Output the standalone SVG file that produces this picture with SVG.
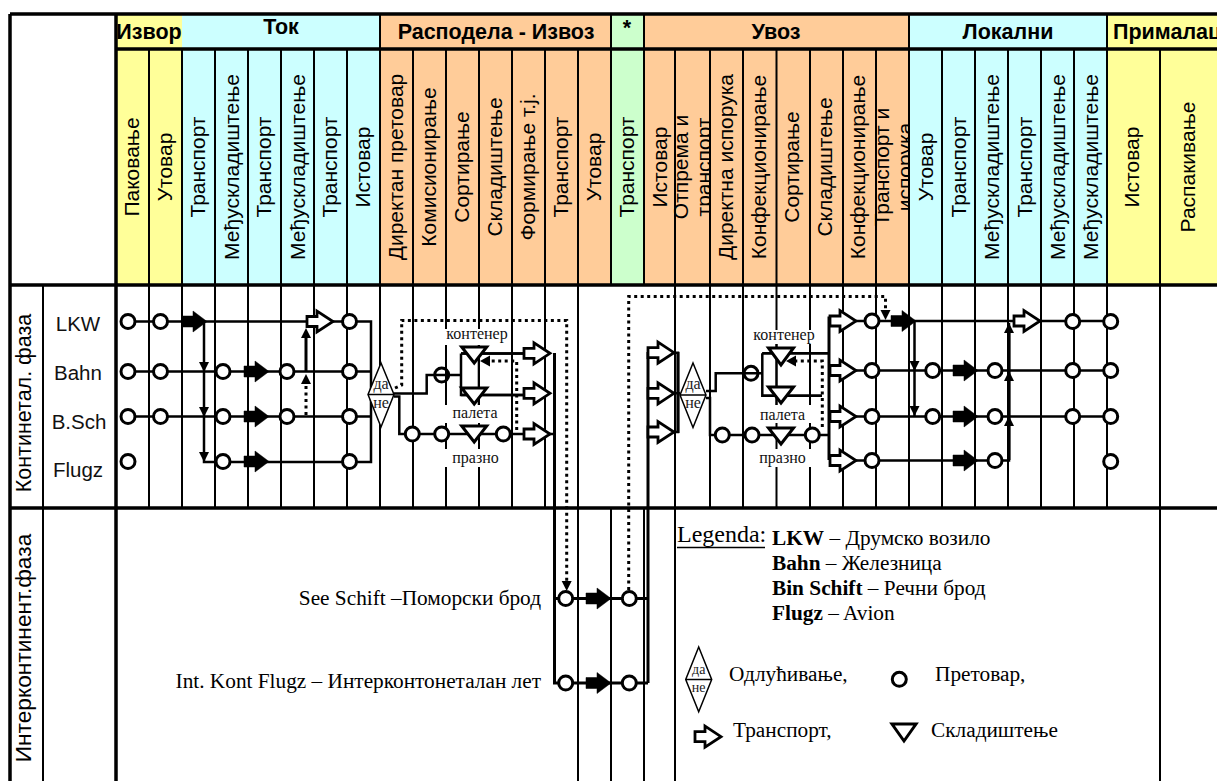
<svg xmlns="http://www.w3.org/2000/svg" width="1217" height="781" viewBox="0 0 1217 781">
<style>
.hd{font-family:"Liberation Sans",Arial,sans-serif;font-size:21px;fill:#000;text-anchor:middle}
.tt{font-family:"Liberation Sans",Arial,sans-serif;font-size:21.5px;font-weight:bold;fill:#000;text-anchor:middle}
.rl{font-family:"Liberation Sans",Arial,sans-serif;font-size:20.5px;fill:#111;text-anchor:middle}
.tm{font-family:"Liberation Serif","Times New Roman",serif;font-size:21.3px;fill:#000}
.sm{font-family:"Liberation Serif","Times New Roman",serif;font-size:16px;fill:#111;text-anchor:middle}
.dn{font-family:"Liberation Serif","Times New Roman",serif;font-size:16px;fill:#222;text-anchor:middle}
.g{stroke:#000;stroke-width:2;fill:none}
.G{stroke:#000;stroke-width:3.5;fill:none}
.l{stroke:#000;stroke-width:2.5;fill:none}
.L{stroke:#000;stroke-width:3;fill:none}
.dt{stroke:#000;stroke-width:3;fill:none;stroke-dasharray:3 3.5}
.c{fill:#fff;stroke:#000;stroke-width:3}
.t{fill:#fff;stroke:#000;stroke-width:3;stroke-linejoin:miter}
.d{fill:none;stroke:#000;stroke-width:1.5}
.wa{fill:#fff;stroke:#000;stroke-width:2.8}
</style>
<defs>
<path id="ba" d="M0-5.500H11V-10.500L25 0L11 10.500V5.500H0Z" fill="#000" stroke="#000" stroke-width="0.5"/>
<path id="wa" class="wa" d="M0-5H10V-10.500L26 0L10 10.500V5H0Z"/>
<path id="hd" d="M0 0L-5-10H5Z" fill="#000"/>
<path id="hu" d="M0 0L-5 10H5Z" fill="#000"/>
<clipPath id="cp1"><rect x="660" y="60" width="50" height="220"/></clipPath>
<clipPath id="cp2"><rect x="860" y="60" width="49" height="220"/></clipPath>
</defs>
<rect width="1217" height="781" fill="#fff"/>
<g id="header-fills">
<rect x="116" y="15" width="66" height="270" fill="#FFFF99"/>
<rect x="182" y="15" width="198" height="270" fill="#CCFFFF"/>
<rect x="380" y="15" width="231" height="270" fill="#FFCC99"/>
<rect x="611" y="15" width="33" height="270" fill="#CCFFCC"/>
<rect x="644" y="15" width="265" height="270" fill="#FFCC99"/>
<rect x="909" y="15" width="198" height="270" fill="#CCFFFF"/>
<rect x="1107" y="15" width="110" height="270" fill="#FFFF99"/>
</g>
<g id="grid">
<path class="g" d="M149 50V508M182 50V508M215 50V508M248 50V508M281 50V508M314 50V508M347 50V508M380 15V508M413 50V508M446 50V508M479 50V508M512 50V508M545 50V508M578 50V781M611 15V285M644 15V285M611 508V781M644 508V781M675 50V781M710 50V508M743 50V508M776.500 50V508M810 50V508M843 50V508M876 50V508M909 15V508M942 50V508M975 50V508M1008 50V508M1041 50V508M1074 50V508M1107 15V508M1160 50V781M43 285V781"/>
<path class="G" d="M10 14H1217M116 49H1217M10 285H1217M10 508H1217M10 14V781M116 14V781"/>
</g>
<g id="header-text">
<text class="tt" x="149" y="39">Извор</text>
<text class="tt" x="281" y="34">Ток</text>
<text class="tt" x="496" y="39">Расподела - Извоз</text>
<text class="tt" x="627" y="35">*</text>
<text class="tt" x="776" y="39">Увоз</text>
<text class="tt" x="1008" y="39">Локални</text>
<text class="tt" x="1113" y="39" style="text-anchor:start">Прималац</text>
<text class="hd" transform="translate(139 167) rotate(-90)">Паковање</text>
<text class="hd" transform="translate(172 167) rotate(-90)">Утовар</text>
<text class="hd" transform="translate(205 167) rotate(-90)">Транспорт</text>
<text class="hd" transform="translate(238.500 167) rotate(-90)">Међускладиштење</text>
<text class="hd" transform="translate(271 167) rotate(-90)">Транспорт</text>
<text class="hd" transform="translate(304.500 167) rotate(-90)">Међускладиштење</text>
<text class="hd" transform="translate(337 167) rotate(-90)">Транспорт</text>
<text class="hd" transform="translate(370 167) rotate(-90)">Истовар</text>
<text class="hd" transform="translate(403 167) rotate(-90)">Директан претовар</text>
<text class="hd" transform="translate(436 167) rotate(-90)">Комисионирање</text>
<text class="hd" transform="translate(469 167) rotate(-90)">Сортирање</text>
<text class="hd" transform="translate(502 167) rotate(-90)">Складиштење</text>
<text class="hd" transform="translate(535 167) rotate(-90)">Формирање т.ј.</text>
<text class="hd" transform="translate(568 167) rotate(-90)">Транспорт</text>
<text class="hd" transform="translate(601 167) rotate(-90)">Утовар</text>
<text class="hd" transform="translate(634 167) rotate(-90)">Транспорт</text>
<text class="hd" transform="translate(667 167) rotate(-90)">Истовар</text>
<g clip-path="url(#cp1)"><text class="hd" transform="translate(688 167) rotate(-90)">Отпрема и</text><text class="hd" transform="translate(711 167) rotate(-90)">транспорт</text></g>
<text class="hd" transform="translate(733 167) rotate(-90)">Директна испорука</text>
<text class="hd" transform="translate(766 167) rotate(-90)">Конфекционирање</text>
<text class="hd" transform="translate(799 167) rotate(-90)">Сортирање</text>
<text class="hd" transform="translate(832 167) rotate(-90)">Складиштење</text>
<text class="hd" transform="translate(865 167) rotate(-90)">Конфекционирање</text>
<g clip-path="url(#cp2)"><text class="hd" transform="translate(889 167) rotate(-90)">Транспорт и</text><text class="hd" transform="translate(912 167) rotate(-90)">испорука</text></g>
<text class="hd" transform="translate(933 167) rotate(-90)">Утовар</text>
<text class="hd" transform="translate(966 167) rotate(-90)">Транспорт</text>
<text class="hd" transform="translate(999 167) rotate(-90)">Међускладиштење</text>
<text class="hd" transform="translate(1032 167) rotate(-90)">Транспорт</text>
<text class="hd" transform="translate(1065 167) rotate(-90)">Међускладиштење</text>
<text class="hd" transform="translate(1098 167) rotate(-90)">Међускладиштење</text>
<text class="hd" transform="translate(1139 167) rotate(-90)">Истовар</text>
<text class="hd" transform="translate(1195 167) rotate(-90)">Распакивање</text>
</g>
<g id="row-labels">
<text class="hd" transform="translate(31 403) rotate(-90)" style="font-size:21.500px">Континетал. фаза</text>
<text class="hd" transform="translate(31 648) rotate(-90)" style="font-size:22.700px">Интерконтинент.фаза</text>
<text class="rl" x="78" y="331">LKW</text>
<text class="rl" x="78" y="380">Bahn</text>
<text class="rl" x="79" y="429">B.Sch</text>
<text class="rl" x="78" y="477">Flugz</text>
</g>
<g id="connectors">
<path class="l" d="M128 321.500H371V462H204V321.500M128 371.500H371M128 416.500H371"/>
<path class="l" d="M394 393.500H426.700V375H461M461 353.500V395H523M461 353.500H523"/>
<path class="l" d="M394 396.500H399.300V434H554"/>
<path class="L" d="M554.500 353V683H566M554 598.500H648M566 683H648M648 352V683"/>
<path class="l" d="M675 352.700H678V432H675M675 393.300H680"/>
<path class="L" d="M678 352V433"/>
<path class="l" d="M706 391H715.700V373.300H762.300M762.300 353.300V395.700H822M762.300 353.300H828"/>
<path class="l" d="M706 398H710V435H828"/>
<path class="L" d="M829 316.500V460"/>
<path class="l" d="M856 321H1110M856 370.500H1110M856 416.500H1110M856 460.500H1009V323M914.500 321V416"/>
<path class="L" d="M306 371.500V335"/>
<path class="L" d="M1009 460V330"/>
<path class="dt" d="M306 415V384"/>
<path class="dt" d="M395 388L401.700 385V320.500H566.700V582"/>
<path class="dt" d="M628.700 590V296.500H885.500V311"/>
<path class="dt" d="M516.700 430V361H490"/>
<path class="dt" d="M822.300 427V361H796"/>
<use href="#hd" x="204" y="372"/><use href="#hd" x="204" y="417"/><use href="#hd" x="204" y="462"/>
<use href="#hu" x="306" y="328"/><use href="#hu" x="306" y="374"/>
<use href="#hd" x="566.700" y="591"/><use href="#hd" x="885.500" y="320"/>
<use href="#hd" x="914.500" y="371"/><use href="#hd" x="914.500" y="416"/>
<use href="#hu" x="1009" y="323"/><use href="#hu" x="1009" y="371"/><use href="#hu" x="1009" y="416"/>
<path d="M480 361L490 355.500V366.500Z" fill="#000"/><path d="M786 361L796 355.500V366.500Z" fill="#000"/>
</g>
<g id="label-masks" fill="#fff">
<rect x="444" y="329" width="64" height="16"/><rect x="444" y="405" width="56" height="18"/><rect x="444" y="449" width="56" height="18"/>
<rect x="752" y="330" width="64" height="14"/><rect x="760" y="405" width="56" height="18"/><rect x="760" y="449" width="56" height="18"/>
</g>
<g id="labels-inner">
<text class="sm" x="477" y="339">контенер</text><text class="sm" x="475" y="418">палета</text><text class="sm" x="475.500" y="463">празно</text>
<text class="sm" x="784" y="340">контенер</text><text class="sm" x="782.500" y="420">палета</text><text class="sm" x="782.500" y="463">празно</text>
</g>
<g id="lines-over"><path class="g" d="M478.700 345V405M776.500 344V405"/><path class="l" d="M461 353.500H523M461 395H523M762.300 353.300H828M762.300 395.700H822"/></g>
<g id="circles">
<circle class="c" cx="128" cy="321.500" r="7"/><circle class="c" cx="160.500" cy="321.500" r="7"/><circle class="c" cx="349.500" cy="321.500" r="7"/>
<circle class="c" cx="128" cy="371.500" r="7"/><circle class="c" cx="160.500" cy="371.500" r="7"/><circle class="c" cx="223" cy="371.500" r="7"/><circle class="c" cx="287" cy="371.500" r="7"/><circle class="c" cx="349.500" cy="371.500" r="7"/>
<circle class="c" cx="128" cy="416.500" r="7"/><circle class="c" cx="160.500" cy="416.500" r="7"/><circle class="c" cx="223" cy="416.500" r="7"/><circle class="c" cx="287" cy="416.500" r="7"/><circle class="c" cx="349.500" cy="416.500" r="7"/>
<circle class="c" cx="128" cy="461.500" r="7"/><circle class="c" cx="223" cy="461.500" r="7"/><circle class="c" cx="349.500" cy="461.500" r="7"/>
<circle class="L" cx="441.700" cy="375" r="7"/>
<circle class="c" cx="412.300" cy="434" r="7"/><circle class="c" cx="441.700" cy="434" r="7"/><circle class="c" cx="503.300" cy="434" r="7"/>
<circle class="c" cx="565.700" cy="598.500" r="7"/><circle class="c" cx="629.300" cy="598.500" r="7"/><circle class="c" cx="565.700" cy="683" r="7"/><circle class="c" cx="629.300" cy="683" r="7"/>
<circle class="L" cx="751" cy="373.300" r="7"/>
<circle class="c" cx="722.300" cy="435" r="7"/><circle class="c" cx="752" cy="435" r="7"/><circle class="c" cx="812.300" cy="435" r="7"/>
<circle class="c" cx="872" cy="321" r="7"/><circle class="c" cx="872" cy="370.500" r="7"/><circle class="c" cx="872" cy="416.500" r="7"/><circle class="c" cx="872" cy="460.500" r="7"/>
<circle class="c" cx="932.700" cy="370.500" r="7"/><circle class="c" cx="995" cy="370.500" r="7"/><circle class="c" cx="932.700" cy="416.500" r="7"/><circle class="c" cx="995" cy="416.500" r="7"/><circle class="c" cx="995" cy="460.500" r="7"/>
<circle class="c" cx="1072.700" cy="321.500" r="7"/><circle class="c" cx="1072.700" cy="370.500" r="7"/><circle class="c" cx="1072.700" cy="416.500" r="7"/>
<circle class="c" cx="1110.700" cy="321.500" r="7"/><circle class="c" cx="1110.700" cy="370.500" r="7"/><circle class="c" cx="1110.700" cy="416.500" r="7"/><circle class="c" cx="1110.700" cy="461.500" r="7"/>
<circle class="c" cx="899.300" cy="679.300" r="7"/>
</g>
<g id="arrows">
<use href="#ba" x="182" y="321.500"/><use href="#ba" x="244" y="371.500"/><use href="#ba" x="244" y="416.500"/><use href="#ba" x="244" y="461.500"/>
<use href="#ba" x="586" y="598.500"/><use href="#ba" x="586" y="683"/><use href="#ba" x="891" y="321"/>
<use href="#ba" x="953" y="370.500"/><use href="#ba" x="953" y="416.500"/><use href="#ba" x="953" y="460.500"/>
<use href="#wa" x="307" y="321.500"/><use href="#wa" x="524" y="353.300"/><use href="#wa" x="524" y="393.300"/><use href="#wa" x="524" y="434"/>
<use href="#wa" x="648" y="352.700"/><use href="#wa" x="648" y="393.300"/><use href="#wa" x="648" y="432"/>
<use href="#wa" x="830" y="321"/><use href="#wa" x="830" y="370.500"/><use href="#wa" x="830" y="416.500"/><use href="#wa" x="830" y="460.500"/>
<use href="#wa" x="1014" y="321"/><use href="#wa" x="695" y="736.700"/>
</g>
<g id="triangles">
<path class="t" d="M461.700 347H486.700L474.200 363Z"/><path class="t" d="M461.700 388H486.700L474.200 404Z"/><path class="t" d="M461.700 426H486.700L474.200 442Z"/>
<path class="t" d="M768.500 348H793.500L781 365Z"/><path class="t" d="M768.500 387H793.500L781 403Z"/><path class="t" d="M768.500 428H793.500L781 444Z"/>
<path class="t" d="M892 724H916L904 741Z"/>
</g>
<g id="decision-1"><path d="M381 363L394 394.500L381 427L368 394.500Z" fill="#fff"/><path class="d" d="M381 363L394 394.500L381 427L368 394.500ZM368 394.500H394"/><text class="dn" x="381" y="389">да</text><text class="dn" x="381" y="408">не</text></g>
<g id="decision-2"><path d="M693 363L706 395L693 427.500L680 395Z" fill="#fff"/><path class="d" d="M693 363L706 395L693 427.500L680 395ZM680 395H706"/><text class="dn" x="693" y="389">да</text><text class="dn" x="693" y="408">не</text></g>
<g id="decision-legend"><path class="d" d="M698.700 647L711.700 679.500L698.700 711.700L685.700 679.500ZM685.700 679.500H711.700"/><text class="dn" x="698.700" y="674" style="font-size:14px">да</text><text class="dn" x="698.700" y="692" style="font-size:14px">не</text></g>
<g id="texts">
<text class="tm" x="541" y="605" text-anchor="end">See Schift –Поморски брод</text>
<text class="tm" x="541" y="688" text-anchor="end">Int. Kont Flugz – Интерконтонеталан лет</text>
<text class="tm" x="677" y="542" style="font-size:24px">Legenda:</text>
<path class="l" d="M677 547.500H765" style="stroke-width:1.500"/>
<text class="tm" x="772" y="545"><tspan font-weight="bold">LKW</tspan> – Друмско возило</text>
<text class="tm" x="772" y="570"><tspan font-weight="bold">Bahn</tspan> – Железница</text>
<text class="tm" x="772" y="595"><tspan font-weight="bold">Bin Schift</tspan> – Речни брод</text>
<text class="tm" x="772" y="620"><tspan font-weight="bold">Flugz</tspan> – Avion</text>
<text class="tm" x="729" y="681">Одлућивање,</text>
<text class="tm" x="935" y="681">Претовар,</text>
<text class="tm" x="733" y="737">Транспорт,</text>
<text class="tm" x="931" y="737">Складиштење</text>
</g>
</svg>
